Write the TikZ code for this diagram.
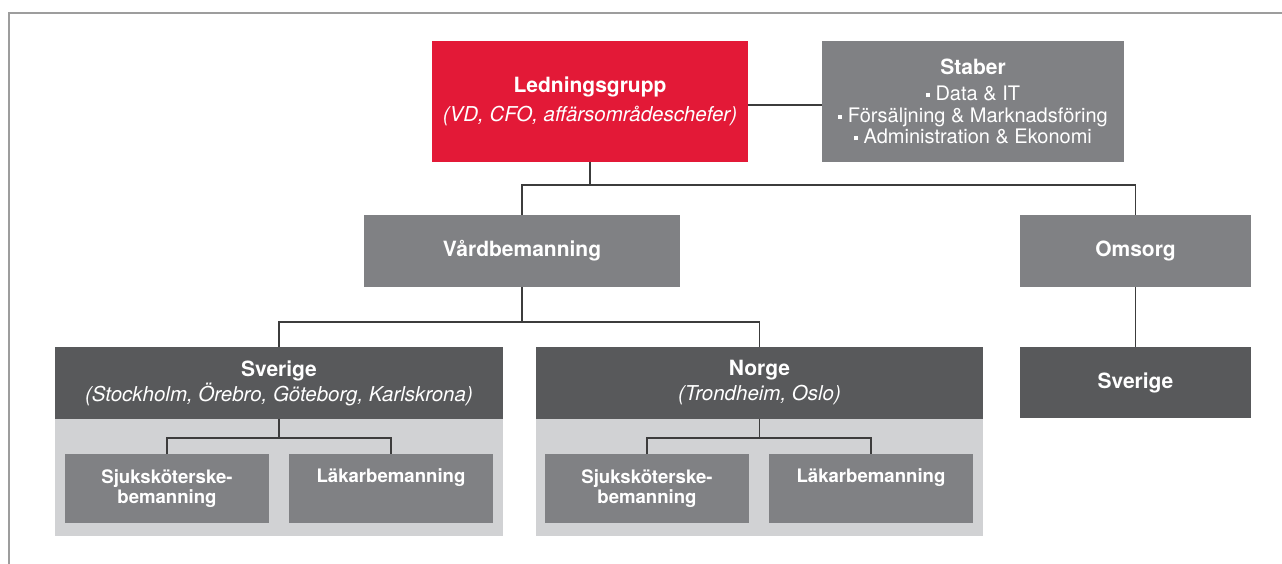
\documentclass[tikz,border=0pt]{standalone}
\usepackage{fontspec}
\setmainfont{TeX Gyre Heros}
\definecolor{cred}{HTML}{E31937}
\definecolor{cgray}{HTML}{808184}
\definecolor{cdark}{HTML}{58595B}
\definecolor{clight}{HTML}{D1D2D4}
\definecolor{cborder}{HTML}{9D9D9D}
\definecolor{cline}{HTML}{3C3C3C}
\newcommand\sqb{\rule[0.16em]{0.2em}{0.2em}\ }
\tikzset{
  box/.style={inner sep=0pt, outer sep=0pt, text=white, align=center},
  conn/.style={draw=cline, line width=1.1pt},
}
\begin{document}
\begin{tikzpicture}[x=1pt,y=-1pt]
\useasboundingbox (0,0) rectangle (1282,564);
\draw[cborder, line width=1.5pt] (9,564) -- (9,13) -- (1282,13);

% top level
\node[box, fill=cred, minimum width=316pt, minimum height=121pt,
      font=\fontsize{20.5}{29}\selectfont] (led) at (590,101.5)
  {\textbf{\fontsize{21}{29}\selectfont Ledningsgrupp}\\\textit{(VD, CFO, affärsområdeschefer)}};
\node[box, fill=cgray, minimum width=302pt, minimum height=121pt,
      font=\fontsize{20}{21.5}\selectfont] (stab) at (973,101.5)
  {\textbf{\fontsize{21}{21.5}\selectfont Staber}\\[4.5pt]\sqb Data \& IT\\\sqb Försäljning \& Marknadsföring\\\sqb Administration \& Ekonomi};

% second level
\node[box, fill=cgray, minimum width=316pt, minimum height=72pt,
      font=\fontsize{21}{25}\selectfont\bfseries] (vard) at (522,251) {Vårdbemanning};
\node[box, fill=cgray, minimum width=231pt, minimum height=72pt,
      font=\fontsize{21}{25}\selectfont\bfseries] (oms) at (1135.5,251) {Omsorg};

% third level backgrounds
\node[box, fill=clight, minimum width=448pt, minimum height=118pt] (sveback) at (279,477) {};
\node[box, fill=clight, minimum width=447pt, minimum height=118pt] (norback) at (759.5,477) {};

% third level
\node[box, fill=cdark, minimum width=448pt, minimum height=72pt,
      font=\fontsize{20.5}{25}\selectfont] (sve) at (279,383)
  {\textbf{\fontsize{21}{25}\selectfont Sverige}\\\textit{(Stockholm, Örebro, Göteborg, Karlskrona)}};
\node[box, fill=cdark, minimum width=447pt, minimum height=72pt,
      font=\fontsize{20.5}{25}\selectfont] (nor) at (759.5,383)
  {\textbf{\fontsize{21}{25}\selectfont Norge}\\\textit{(Trondheim, Oslo)}};
\node[box, fill=cdark, minimum width=231pt, minimum height=71pt,
      font=\fontsize{21}{25}\selectfont\bfseries] (omsv) at (1135.5,382.5) {Sverige};

% fourth level
\tikzset{sub/.style={box, fill=cgray, minimum width=204pt, minimum height=69pt,
      font=\fontsize{18.6}{20.5}\selectfont\bfseries}}
\node[sub] (sj1) at (167,488.5) {Sjuksköterske-\\bemanning};
\node[sub] (lk1) at (391,488.5) {Läkarbemanning\\\strut};
\node[sub] (sj2) at (647,488.5) {Sjuksköterske-\\bemanning};
\node[sub] (lk2) at (871,488.5) {Läkarbemanning\\\strut};

% connectors
\coordinate (b1) at (590,185);
\coordinate (b2) at (522,322);
\coordinate (b3) at (279,438);
\coordinate (b4) at (759.5,438);
\draw[conn] ([yshift=-3.5pt]led.east) -- ([yshift=-3.5pt]stab.west);
\draw[conn] (led.south) -- (b1);
\draw[conn] (vard.north) |- (b1) -| (oms.north);
\draw[conn] (vard.south) -- (b2);
\draw[conn] (sve.north) |- (b2) -| (nor.north);
\draw[conn] (sve.south) -- (b3);
\draw[conn] (sj1.north) |- (b3) -| (lk1.north);
\draw[conn] (nor.south) -- (b4);
\draw[conn] (sj2.north) |- (b4) -| (lk2.north);
\draw[conn] (oms.south) -- (omsv.north);
\end{tikzpicture}
\end{document}
